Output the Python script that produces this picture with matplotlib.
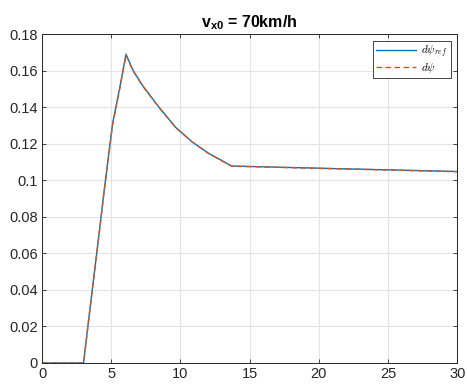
import matplotlib
matplotlib.use("Agg")
import matplotlib.pyplot as plt
from matplotlib.ticker import FuncFormatter
from matplotlib.font_manager import FontProperties

plt.rcParams['font.family'] = ['Liberation Sans', 'DejaVu Sans']
plt.rcParams['mathtext.fontset'] = 'custom'
plt.rcParams['mathtext.rm'] = 'Liberation Sans'
plt.rcParams['mathtext.bf'] = 'Liberation Sans:bold'
plt.rcParams['mathtext.it'] = 'Liberation Sans:italic'

# data
t_ref = [0, 3.0, 3.5, 4.0, 4.5, 4.9, 5.1, 5.6, 6.07, 6.55, 7.25, 8.45,
         9.65, 10.85, 12.05, 13.7, 20.6, 30]
dpsi_ref = [0, 0, 0.032, 0.063, 0.095, 0.119, 0.131, 0.150, 0.169,
            0.1605, 0.152, 0.140, 0.129, 0.121, 0.1147, 0.1078, 0.1065, 0.1048]
t_act = [0, 3.0, 3.5, 4.0, 4.5, 4.9, 5.1, 5.6, 6.07, 6.55, 7.25, 8.45,
         9.65, 10.85, 12.05, 13.7, 20.6, 30]
dpsi_act = [0, 0, 0.0315, 0.0625, 0.0945, 0.1185, 0.1305, 0.1495, 0.1685,
            0.1603, 0.1518, 0.1399, 0.1289, 0.1209, 0.1146, 0.1077, 0.1064, 0.1047]
xticks = [0, 5, 10, 15, 20, 25, 30]
yticks = [0, 0.02, 0.04, 0.06, 0.08, 0.1, 0.12, 0.14, 0.16, 0.18]
title = r'v$_{\mathbf{x0}}$ = 70km/h'
labels = [r'$d\psi_{ref}$', r'$d\psi$']

fig = plt.figure(figsize=(4.67, 3.92), dpi=100)
ax = fig.add_axes([0.09, 0.074, 0.889, 0.839])

blue = (0.0, 0.447, 0.741)
orange = (0.85, 0.325, 0.098)
ax.plot(t_ref, dpsi_ref, color=blue, lw=1.0, label=labels[0])
ax.plot(t_act, dpsi_act, color=orange, lw=1.0, ls=(0, (4, 2.5)), label=labels[1])

ax.set_xlim(0, 30)
ax.set_ylim(0, 0.18)
ax.set_xticks(xticks)
ax.set_yticks(yticks)
fmt = FuncFormatter(lambda v, p: '%g' % round(v, 4))
ax.xaxis.set_major_formatter(fmt)
ax.yaxis.set_major_formatter(fmt)
ax.grid(True, color='#e3e3e3', lw=0.8)
ax.set_axisbelow(True)
ax.tick_params(direction='in', length=3, width=0.6, colors='#262626',
               labelsize=10.5, top=True, right=True, pad=3)
for s in ax.spines.values():
    s.set_color('#262626')
    s.set_linewidth(0.7)

ax.set_title(title, fontsize=11.5, fontweight='bold', pad=5, color='black')

lp = FontProperties(family='DejaVu Serif', size=8)
lp.set_math_fontfamily('cm')
leg = ax.legend(loc='upper right', prop=lp, fancybox=False, framealpha=1,
                edgecolor='#262626', handlelength=3.6, borderpad=0.25,
                labelspacing=0.1, borderaxespad=0.6, handletextpad=0.5)
leg.get_frame().set_linewidth(0.6)

fig.savefig('out.png', dpi=100)
